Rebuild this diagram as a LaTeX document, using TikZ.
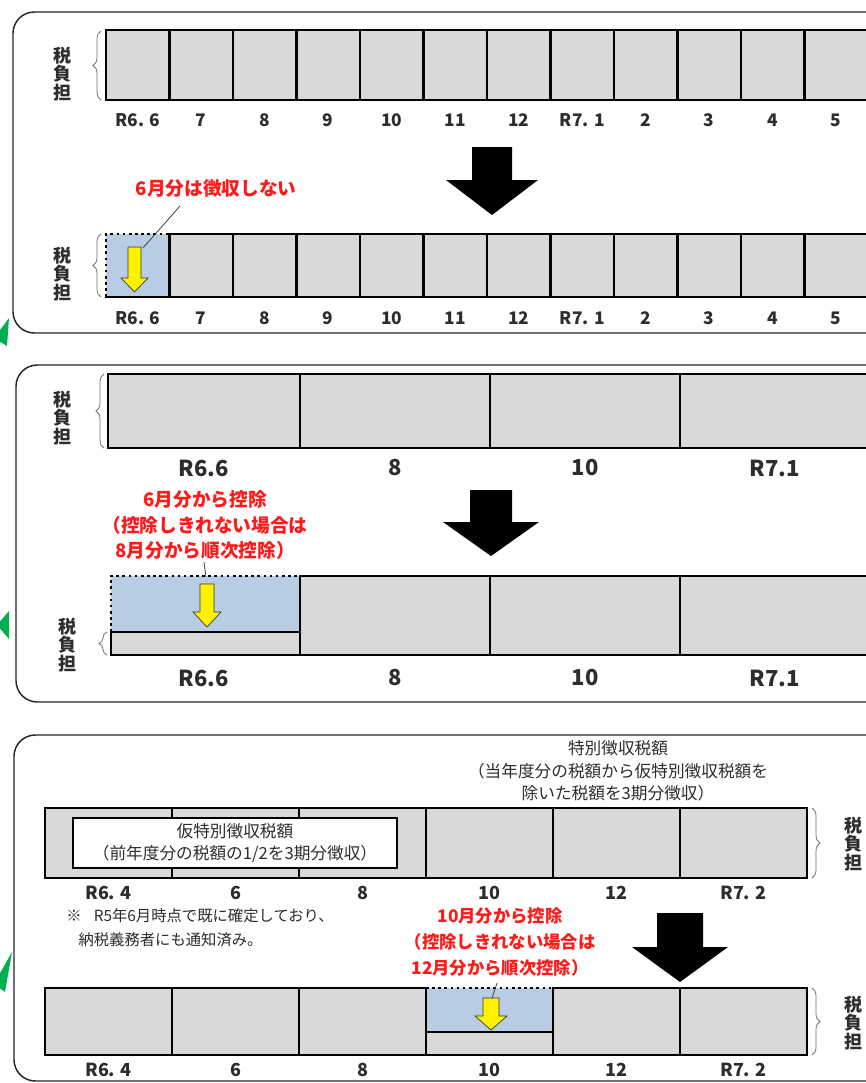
\documentclass[tikz,border=0pt]{standalone}
\usepackage{fontspec}
\setmainfont{Noto Sans CJK JP}
\usetikzlibrary{decorations.pathreplacing}
\definecolor{cellgray}{RGB}{217,217,217}
\definecolor{cutblue}{RGB}{184,204,228}
\definecolor{notered}{RGB}{255,25,25}
\definecolor{arrowgreen}{RGB}{0,176,80}
\definecolor{txtgray}{RGB}{45,45,45}
\begin{document}
\begin{tikzpicture}[x=0.75pt,y=-0.75pt,
  panel/.style={draw=black!85,line width=1.1pt,rounded corners=16pt},
  cell/.style={draw=black,line width=1.7pt,fill=cellgray},
  solidline/.style={draw=black,line width=1.7pt},
  dotline/.style={draw=black,line width=2pt,dash pattern=on 2pt off 2.6pt},
  lbl/.style={text=txtgray,inner sep=0pt},
  lblA/.style={lbl,font=\fontsize{13}{14}\selectfont\bfseries},
  lblB/.style={lbl,font=\fontsize{16.5}{18}\selectfont\bfseries},
  lblC/.style={lbl,font=\fontsize{13.5}{14}\selectfont\bfseries},
  vtext/.style={text=txtgray,align=center,inner sep=0pt,font=\fontsize{13.5}{14}\selectfont\bfseries},
  rednote/.style={text=notered,align=center,inner sep=0pt},
  bigarrow/.style={fill=black},
  yarrow/.style={fill=yellow,draw=black!80,line width=0.5pt},
  bracketL/.style={draw=black!55,line width=0.6pt,decorate,decoration={brace,amplitude=6pt}},
  leader/.style={draw=black!75,line width=0.6pt},
  wbox/.style={draw=black,line width=0.8pt,fill=white,align=center,inner sep=0pt,text=txtgray,
    minimum width=243pt,minimum height=37.5pt,font=\fontsize{12.5}{17}\selectfont},
  gtri/.style={fill=arrowgreen}]
\useasboundingbox (0,0) rectangle (866,1083);
\clip (0,0) rectangle (866,1083);
\fill[white] (0,0) rectangle (866,1083);

% green arrow tips at the left edge
\fill[gtri] (9,318) -- (7,346) -- (-6,338) -- cycle;
\fill[gtri] (9,611) -- (9,639) -- (-3,625) -- cycle;
\fill[gtri] (12,952) -- (5,992) -- (-6,984) -- cycle;

% ================= Panel 1 =================
\draw[panel] (13,12) rectangle (940,333);
\foreach \i in {0,...,11}
  \draw[cell] ({106+63.5*\i},30) rectangle ({169.5+63.5*\i},100);
\foreach \t [count=\i from 0] in {R6. 6,7,8,9,10,11,12,R7. 1,2,3,4,5}
  \node[lblA] (pa\i) at ({137.75+63.5*\i},120) {\t};
\draw[bracketL] (101,100) -- (101,31);
\node[vtext] (va1) at (62,74) {税\\負\\担};

\fill[bigarrow] (472,147) -- (512,147) -- (512,180) -- (538,180) -- (492,215) -- (446,180) -- (472,180) -- cycle;

\fill[cutblue] (106,234) rectangle (169.5,297);
\foreach \i in {1,...,11}
  \draw[cell] ({106+63.5*\i},234) rectangle ({169.5+63.5*\i},297);
\draw[dotline] (106,297) -- (106,234) -- (169.5,234);
\draw[solidline] (104.5,297) -- (169.5,297);
\filldraw[yarrow] (128,247) -- (141,247) -- (141,278) -- (148,278) -- (134.5,292) -- (121,278) -- (128,278) -- cycle;
\node[rednote,font=\fontsize{14}{16}\selectfont\bfseries] (r1) at (216,188) {6月分は徴収しない};
\coordinate (r1a) at (180,206);
\coordinate (r1b) at (143,248);
\draw[leader] (r1a) -- (r1b);
\foreach \t [count=\i from 0] in {R6. 6,7,8,9,10,11,12,R7. 1,2,3,4,5}
  \node[lblA] (pb\i) at ({137.75+63.5*\i},318) {\t};
\draw[bracketL] (101,297) -- (101,234);
\node[vtext] (vb1) at (62,274) {税\\負\\担};

% ================= Panel 2 =================
\draw[panel] (16,365) rectangle (940,702);
\foreach \a/\b in {108/300,300/490,490/680,680/870}
  \draw[cell] (\a,374) rectangle (\b,448);
\node[lblB] (qa0) at (204,468) {R6.6};
\node[lblB] (qa1) at (395,468) {8};
\node[lblB] (qa2) at (585,468) {10};
\node[lblB] (qa3) at (775,468) {R7.1};
\draw[bracketL] (104,448) -- (104,374);
\node[vtext] (va2) at (62,418) {税\\負\\担};

\fill[bigarrow] (470,490) -- (512,490) -- (512,522) -- (539,522) -- (491,556) -- (443,522) -- (470,522) -- cycle;

\fill[cutblue] (111,576) rectangle (300,632);
\draw[cell] (111,632) rectangle (300,655);
\foreach \a/\b in {300/490,490/680,680/870}
  \draw[cell] (\a,576) rectangle (\b,655);
\draw[dotline] (111,632) -- (111,576) -- (300,576);
\filldraw[yarrow] (200,584) -- (214,584) -- (214,612) -- (221,612) -- (207,627) -- (193,612) -- (200,612) -- cycle;
\node[rednote,font=\fontsize{14}{19}\selectfont\bfseries] (r2) at (205,525) {6月分から控除\\（控除しきれない場合は\\8月分から順次控除）};
\coordinate (r2a) at (204,562);
\coordinate (r2b) at (206,577);
\draw[leader] (r2a) -- (r2b);
\node[lblB] (qb0) at (204,678) {R6.6};
\node[lblB] (qb1) at (395,678) {8};
\node[lblB] (qb2) at (585,678) {10};
\node[lblB] (qb3) at (775,678) {R7.1};
\draw[bracketL] (107,655) -- (107,632);
\node[vtext] (vb2) at (67,645) {税\\負\\担};

% ================= Panel 3 =================
\draw[panel] (14,735) rectangle (940,1081);
\node[text=txtgray,align=center,inner sep=0pt,font=\fontsize{12.5}{17}\selectfont] (h3) at (618,771)
  {特別徴収税額\\（当年度分の税額から仮特別徴収税額を\\除いた税額を3期分徴収）};
\foreach \i in {0,...,5}
  \draw[cell] ({45+127*\i},808) rectangle ({172+127*\i},878);
\node[wbox] (pv) at (235,843) {仮特別徴収税額\\（前年度分の税額の1/2を3期分徴収）};
\foreach \t [count=\i from 0] in {R6. 4,6,8,10,12,R7. 2}
  \node[lblC] (sa\i) at ({108.5+127*\i},893) {\t};
\draw[bracketL] (812,808) -- (812,878);
\node[vtext] (va3) at (853,844) {税\\負\\担};

\node[text=txtgray,align=left,anchor=west,inner sep=0pt,font=\fontsize{11.5}{18}\selectfont] (nt) at (66,928)
  {※\hspace{0.8em}R5年6月時点で既に確定しており、\\\hspace{0.8em}納税義務者にも通知済み。};

\node[rednote,font=\fontsize{13}{19.5}\selectfont\bfseries] (r3) at (500,942) {10月分から控除\\（控除しきれない場合は\\12月分から順次控除）};

\fill[bigarrow] (657,913) -- (703,913) -- (703,947) -- (728,947) -- (680,982) -- (632,947) -- (657,947) -- cycle;

\foreach \i in {0,1,2}
  \draw[cell] ({45+127*\i},988) rectangle ({172+127*\i},1055);
\fill[cutblue] (426,988) rectangle (553,1032);
\draw[cell] (426,1032) rectangle (553,1055);
\foreach \i in {4,5}
  \draw[cell] ({45+127*\i},988) rectangle ({172+127*\i},1055);
\draw[solidline] (426,988) -- (426,1055);
\draw[dotline] (426,988) -- (553,988);
\filldraw[yarrow] (483,998) -- (499,998) -- (499,1016) -- (507,1016) -- (491,1030) -- (475,1016) -- (483,1016) -- cycle;
\coordinate (r3a) at (497,983);
\coordinate (r3b) at (492,998);
\draw[leader] (r3a) -- (r3b);
\foreach \t [count=\i from 0] in {R6. 4,6,8,10,12,R7. 2}
  \node[lblC] (sb\i) at ({108.5+127*\i},1070) {\t};
\draw[bracketL] (812,988) -- (812,1055);
\node[vtext] (vb3) at (853,1023) {税\\負\\担};
\end{tikzpicture}
\end{document}
